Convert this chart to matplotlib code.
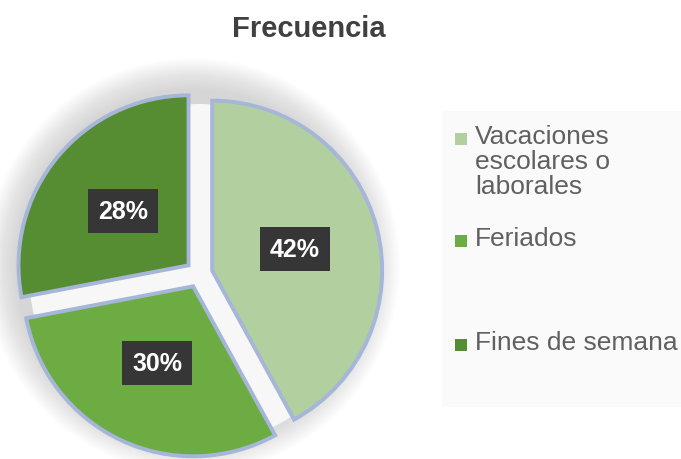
import matplotlib.pyplot as plt
from matplotlib.patches import Circle, Rectangle

plt.rcParams['font.family'] = ['Liberation Sans', 'DejaVu Sans']

title = 'Frecuencia'
categories = ['Vacaciones\nescolares o\nlaborales', 'Feriados', 'Fines de semana']
values = [42, 30, 28]
colors = ['#B2CFA0', '#6CAC43', '#568D33']
legend_y = [136, 238, 342]  # pixel rows of the legend entries

fig = plt.figure(figsize=(6.81, 4.6), dpi=100)
fig.patch.set_facecolor('white')

# legend background panel
fig.patches.append(Rectangle((442 / 681, 1 - 408 / 460), 239 / 681, 296 / 460,
                             transform=fig.transFigure, facecolor='#FAFAFA',
                             edgecolor='none', zorder=0))

# pie axes: centre at ~(199, 275) px, radius ~170 px
R = 170
lim = 1.1
size = 2 * lim * R
ax = fig.add_axes([(199 - size / 2) / 681, (460 - 275 - size / 2) / 460,
                   size / 681, size / 460])

# soft shadow glow around the pie, mostly towards the top
for i in range(16):
    r = 1.22 - i * 0.012
    ax.add_patch(Circle((-0.04, 0.05), r, facecolor='#808080', edgecolor='none',
                        alpha=0.02, zorder=0, clip_on=False))
ax.add_patch(Circle((0, 0), 1.0, facecolor='#F7F7F7', edgecolor='none',
                    zorder=1, clip_on=False))

wedges, texts, autotexts = ax.pie(
    values, colors=colors, startangle=90, counterclock=False,
    explode=[0.08, 0.08, 0.08], autopct='%1.0f%%', pctdistance=0.5,
    wedgeprops=dict(edgecolor='#A5B6D9', linewidth=2.8),
    textprops=dict(color='white', fontsize=18, fontweight='bold'))
for t in autotexts:
    t.set_bbox(dict(boxstyle='square,pad=0.4', facecolor='#363636', edgecolor='none'))
for w in wedges:
    w.set_zorder(2)
    w.set_clip_on(False)
ax.set_xlim(-lim, lim)
ax.set_ylim(-lim, lim)
ax.set_aspect('equal')
ax.axis('off')

fig.text(309 / 681, 1 - 29 / 460, title, ha='center', va='center',
         fontsize=21, fontweight='bold', color='#404040')

# legend entries
for lab, col, y in zip(categories, colors, legend_y):
    fig.patches.append(Rectangle((455 / 681, 1 - (y + 10) / 460), 12 / 681, 12 / 460,
                                 transform=fig.transFigure, facecolor=col,
                                 edgecolor='none', zorder=3))
    fig.text(475 / 681, 1 - (y - 11) / 460, lab, ha='left', va='top',
             fontsize=19, color='#606060', linespacing=1.06)

fig.savefig('out.png', dpi=100)
